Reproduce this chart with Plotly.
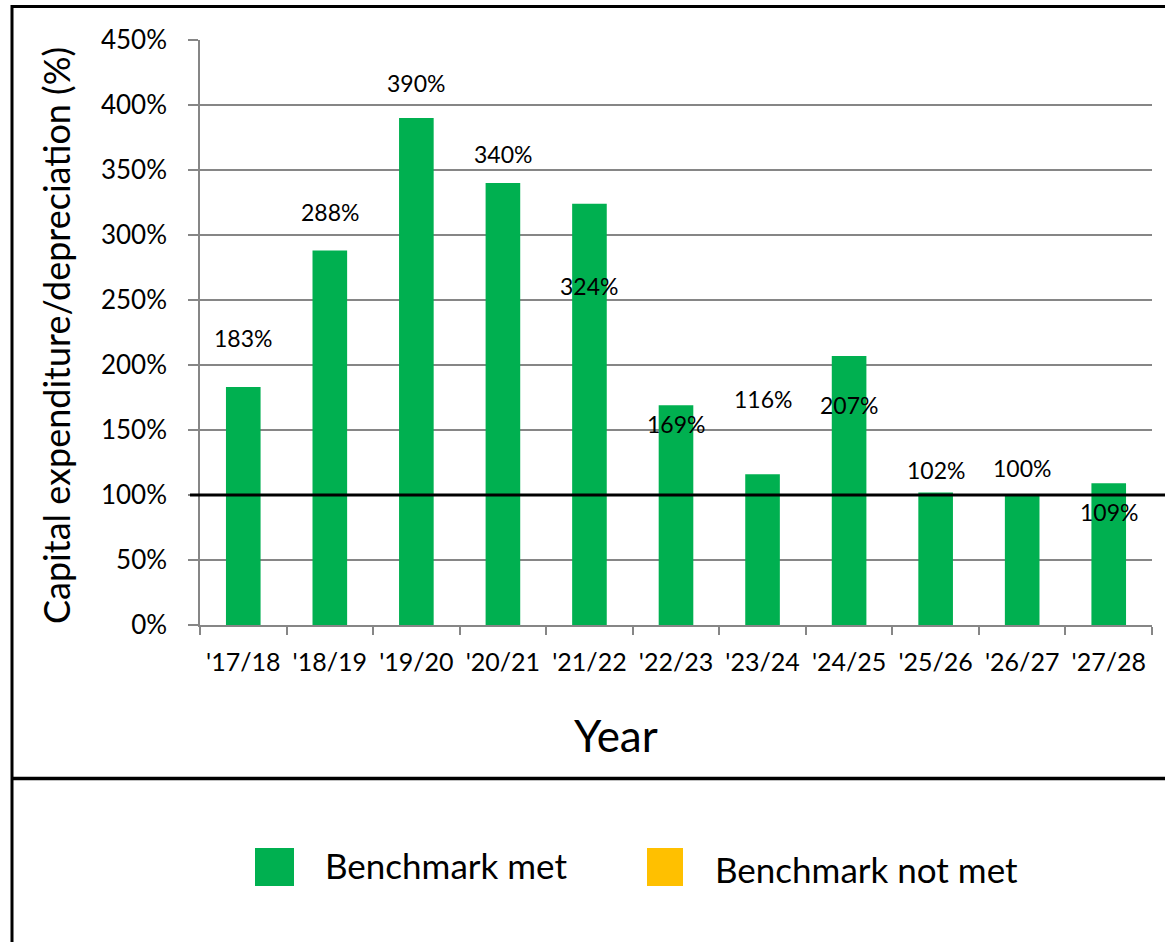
import plotly.graph_objects as go

# Capital expenditure as a share of depreciation, by financial year
years = ["'17/18", "'18/19", "'19/20", "'20/21", "'21/22", "'22/23",
         "'23/24", "'24/25", "'25/26", "'26/27", "'27/28"]
ratio_pct = [183, 288, 390, 340, 324, 169, 116, 207, 102, 100, 109]
benchmark_pct = 100
y_ticks = [0, 50, 100, 150, 200, 250, 300, 350, 400, 450]
y_tick_labels = [f"{t}%" for t in y_ticks]

# Vertical placement of each value label (in axis units)
label_y = [221, 318, 417, 362, 261, 155, 174, 169, 119, 121, 87]

MET = "#00B050"
NOT_MET = "#FFC000"
FONT = "Lato"

W, H = 1165, 942
L, R, T, B = 200, 13, 40, 317
PW, PH = W - L - R, H - T - B


def px(x):
    return (x - L) / PW


def py(y):
    return (H - B - y) / PH


fig = go.Figure()
fig.add_trace(go.Bar(
    x=years, y=ratio_pct, marker=dict(color=MET, line=dict(width=0)),
    width=0.4, name="Benchmark met", showlegend=False, hoverinfo="x+y",
))

annotations = []
for yr, v, ly in zip(years, ratio_pct, label_y):
    annotations.append(dict(
        x=yr, y=ly, xref="x", yref="y", text=f"{v}%", showarrow=False,
        xanchor="center", yanchor="middle",
        font=dict(family=FONT, size=23, color="black"),
    ))


def paper_text(x, y, text, size, xanchor="center", angle=0):
    return dict(
        x=px(x), y=py(y), xref="paper", yref="paper", text=text,
        textangle=angle, showarrow=False, xanchor=xanchor, yanchor="middle",
        font=dict(family=FONT, size=size, color="black"),
    )


annotations += [
    paper_text(56, 336, "Capital expenditure/depreciation (%)", 36, angle=-90),
    paper_text(616, 735, "Year", 44),
    paper_text(323, 865, "Benchmark met", 35, xanchor="left"),
    paper_text(713, 869, "Benchmark not met", 35, xanchor="left"),
]

shapes = [
    # benchmark line at 100%
    dict(type="line", xref="paper", yref="y", x0=px(190), x1=px(1165),
         y0=benchmark_pct, y1=benchmark_pct, line=dict(color="black", width=3)),
    # frame around chart and legend
    dict(type="line", xref="paper", yref="paper", x0=px(12), x1=px(1165),
         y0=py(6.5), y1=py(6.5), line=dict(color="black", width=3)),
    dict(type="line", xref="paper", yref="paper", x0=px(12), x1=px(12),
         y0=py(5), y1=py(942), line=dict(color="black", width=3)),
    dict(type="line", xref="paper", yref="paper", x0=px(12), x1=px(1165),
         y0=py(778.5), y1=py(778.5), line=dict(color="black", width=3.5)),
    # legend swatches
    dict(type="rect", xref="paper", yref="paper", x0=px(255), x1=px(294),
         y0=py(848), y1=py(886), fillcolor=MET, line=dict(width=0)),
    dict(type="rect", xref="paper", yref="paper", x0=px(647), x1=px(683),
         y0=py(848), y1=py(886), fillcolor=NOT_MET, line=dict(width=0)),
]

fig.update_layout(
    width=W, height=H,
    margin=dict(l=L, r=R, t=T, b=B, pad=0),
    paper_bgcolor="white", plot_bgcolor="white",
    font=dict(family=FONT, color="black"),
    showlegend=False,
    bargap=0.6,
    annotations=annotations,
    shapes=shapes,
    xaxis=dict(
        type="category", showgrid=False, showline=True, linecolor="#868686",
        linewidth=1.5, ticks="outside", tickson="boundaries", ticklen=8,
        tickcolor="#868686", tickwidth=1.5, ticklabelstandoff=14,
        tickfont=dict(family=FONT, size=25, color="black"),
    ),
    yaxis=dict(
        range=[0, 450], tickmode="array", tickvals=y_ticks,
        ticktext=y_tick_labels,
        showgrid=True, gridcolor="#868686", gridwidth=1.5,
        showline=True, linecolor="#868686", linewidth=1.5,
        ticks="outside", ticklen=10, tickcolor="#868686", tickwidth=1.5,
        ticklabelstandoff=16, zeroline=False,
        tickfont=dict(family=FONT, size=26, color="black"),
    ),
)

fig.write_html("out.html")
